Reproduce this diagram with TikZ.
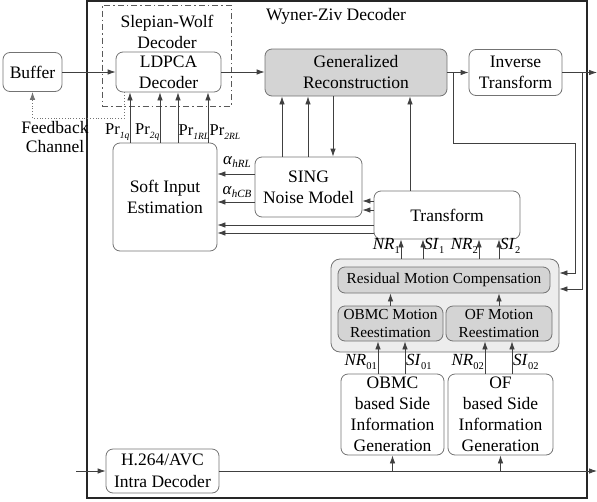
\documentclass[tikz,border=0pt]{standalone}
\usepackage{fontspec}
\setmainfont{Liberation Serif}
\usetikzlibrary{arrows.meta,calc}
\newcommand\lsub[2][10]{\raisebox{-0.45ex}{\fontsize{#1}{#1}\selectfont #2}}
\begin{document}
\begin{tikzpicture}[x=1pt,y=-1pt,
  box/.style={draw=black!55, rounded corners=7pt, align=center, inner sep=0pt, line width=0.8pt, font=\fontsize{17.5}{21}\selectfont},
  gbox/.style={box, fill=black!17, font=\fontsize{15.3}{18}\selectfont},
  arr/.style={-{Latex[length=8pt,width=5.5pt]}, draw=black!75, line width=0.8pt},
  lbl/.style={inner sep=1pt, font=\fontsize{17}{21}\selectfont},
  prl/.style={inner sep=0pt, font=\fontsize{16.5}{20}\selectfont},
]
\useasboundingbox (0,0) rectangle (597,501);
% outer frames
\node[draw=black!85, line width=1.1pt, minimum width=500pt, minimum height=497pt, inner sep=0pt] (wz) at (337,249.5) {};
\node[lbl, font=\fontsize{17.5}{21}\selectfont] (wzlabel) at (336,16) {Wyner-Ziv Decoder};
\node[draw=black!65, line width=0.8pt, dash pattern=on 6pt off 3pt on 1.5pt off 3pt, minimum width=129pt, minimum height=101pt, inner sep=0pt] (sw) at (166.5,55.5) {};
\node[lbl, align=center, font=\fontsize{17.5}{21}\selectfont] (swlabel) at (167,31.5) {Slepian-Wolf\\Decoder};
% boxes
\node[box, minimum width=59pt, minimum height=39pt] (buffer) at (32.5,72) {Buffer};
\node[box, minimum width=105pt, minimum height=40pt] (ldpca) at (168.5,72) {LDPCA\\Decoder};
\node[box, fill=black!17, minimum width=182pt, minimum height=47pt] (genrec) at (356,72.5) {Generalized\\Reconstruction};
\node[box, minimum width=93pt, minimum height=46pt] (invt) at (515.5,72.5) {Inverse\\Transform};
\node[box, minimum width=104pt, minimum height=108pt] (soft) at (165,197) {Soft Input\\Estimation};
\node[box, minimum width=107pt, minimum height=60pt] (sing) at (308.5,187) {SING\\Noise Model};
\node[box, minimum width=146pt, minimum height=48pt] (transform) at (447,215) {Transform};
\node[box, fill=black!7, rounded corners=9pt, minimum width=228pt, minimum height=93pt] (grey) at (445,305.5) {};
\node[gbox, minimum width=212pt, minimum height=26pt] (rmc) at (444,280) {Residual Motion Compensation};
\node[gbox, minimum width=105pt, minimum height=35pt] (obmcme) at (390.5,323.5) {OBMC Motion\\Reestimation};
\node[gbox, minimum width=106pt, minimum height=35pt] (ofme) at (499,323.5) {OF Motion\\Reestimation};
\node[box, minimum width=103pt, minimum height=81pt] (obmcsi) at (392.5,414.5) {OBMC\\based Side\\Information\\Generation};
\node[box, minimum width=105pt, minimum height=81pt] (ofsi) at (500.5,414.5) {OF\\based Side\\Information\\Generation};
\node[box, minimum width=113pt, minimum height=44pt, font=\fontsize{17.5}{22}\selectfont] (h264) at (162.5,471) {H.264/AVC\\Intra Decoder};
% top row
\draw[arr] (buffer.east) -- (ldpca.west);
\draw[arr] (ldpca.east) -- (genrec.west |- ldpca.east);
\draw[arr] (genrec.east) -- (invt.west |- genrec.east);
\coordinate (out) at (597,72.5);
\draw[arr] (invt.east) -- (out);
% feedback
\coordinate (fb1) at (124,118);
\coordinate (fb2) at (32.5,118);
\draw[arr, draw=black!55, dotted] (ldpca.south -| fb1) -- (fb1) -- (fb2) -- (buffer.south);
\node[lbl, align=center, font=\fontsize{17.5}{19}\selectfont] (fblabel) at (55,137.5) {Feedback\\Channel};
% Pr arrows
\foreach \x in {130,160,178,208} \draw[arr] (soft.north -| \x,0) -- (ldpca.south -| \x,0);
\node[prl, anchor=east] (pr1q) at (129.5,132) {Pr\lsub[9.5]{\textit{1q}}};
\node[prl, anchor=east] (pr2q) at (159.5,132) {Pr\lsub[9.5]{\textit{2q}}};
\node[prl, anchor=west] (pr1rl) at (178.5,132) {Pr\lsub[9.5]{\textit{1RL}}};
\node[prl, anchor=west] (pr2rl) at (209.5,132) {Pr\lsub[9.5]{\textit{2RL}}};
% SING <-> GenRec
\foreach \x in {282,308} \draw[arr] (sing.north -| \x,0) -- (genrec.south -| \x,0);
\draw[arr] (genrec.south -| 333,0) -- (sing.north -| 333,0);
\draw[arr] (transform.north -| 410,0) -- (genrec.south -| 410,0);
% SING -> Soft
\foreach \y in {174,202} \draw[arr] (sing.west |- 0,\y) -- (soft.east |- 0,\y);
\node[lbl] (ahrl) at (237,162) {\textit{α}\lsub[11]{\textit{hRL}}};
\node[lbl] (ahcb) at (237,192) {\textit{α}\lsub[11]{\textit{hCB}}};
% Transform -> SING, Soft
\foreach \y in {201,210} \draw[arr] (transform.west |- 0,\y) -- (sing.east |- 0,\y);
\foreach \y in {225,233} \draw[arr] (transform.west |- 0,\y) -- (soft.east |- 0,\y);
% grey -> Transform
\foreach \x in {401,423,479,499} \draw[arr] (grey.north -| \x,0) -- (transform.south -| \x,0);
\node[lbl, anchor=east] (nr1) at (401,246) {\textit{NR}\lsub[10.5]{1}};
\node[lbl, anchor=west] (si1) at (423,246) {\textit{SI}\lsub[10.5]{1}};
\node[lbl, anchor=east] (nr2) at (479,246) {\textit{NR}\lsub[10.5]{2}};
\node[lbl, anchor=west] (si2) at (499,246) {\textit{SI}\lsub[10.5]{2}};
% ME -> RMC
\draw[arr] (obmcme.north) -- (rmc.south -| obmcme.north);
\draw[arr] (ofme.north) -- (rmc.south -| ofme.north);
% SI gen -> ME
\foreach \x in {378,405} \draw[arr] (obmcsi.north -| \x,0) -- (obmcme.south -| \x,0);
\foreach \x in {485,512} \draw[arr] (ofsi.north -| \x,0) -- (ofme.south -| \x,0);
\node[lbl, anchor=east] (nr01) at (378,362) {\textit{NR}\lsub[10.5]{01}};
\node[lbl, anchor=west] (si01) at (405,362) {\textit{SI}\lsub[10.5]{01}};
\node[lbl, anchor=east] (nr02) at (485,362) {\textit{NR}\lsub[10.5]{02}};
\node[lbl, anchor=west] (si02) at (512,362) {\textit{SI}\lsub[10.5]{02}};
% bottom line
\coordinate (inl) at (76,471);
\coordinate (outb) at (597,471);
\draw[arr] (inl) -- (h264.west);
\draw[arr] (h264.east) -- (outb);
\draw[arr] (obmcsi.south |- outb) -- (obmcsi.south);
\draw[arr] (ofsi.south |- outb) -- (ofsi.south);
% right feedback lines
\coordinate (ja) at (453,72.5);
\coordinate (jb) at (453,143);
\coordinate (jc) at (575,143);
\draw[arr] (ja) -- (jb) -- (jc) -- (jc |- 0,273) -- (grey.east |- 0,273);
\coordinate (jd) at (582,72.5);
\draw[arr] (jd) -- (jd |- 0,289) -- (grey.east |- 0,289);
\end{tikzpicture}
\end{document}
